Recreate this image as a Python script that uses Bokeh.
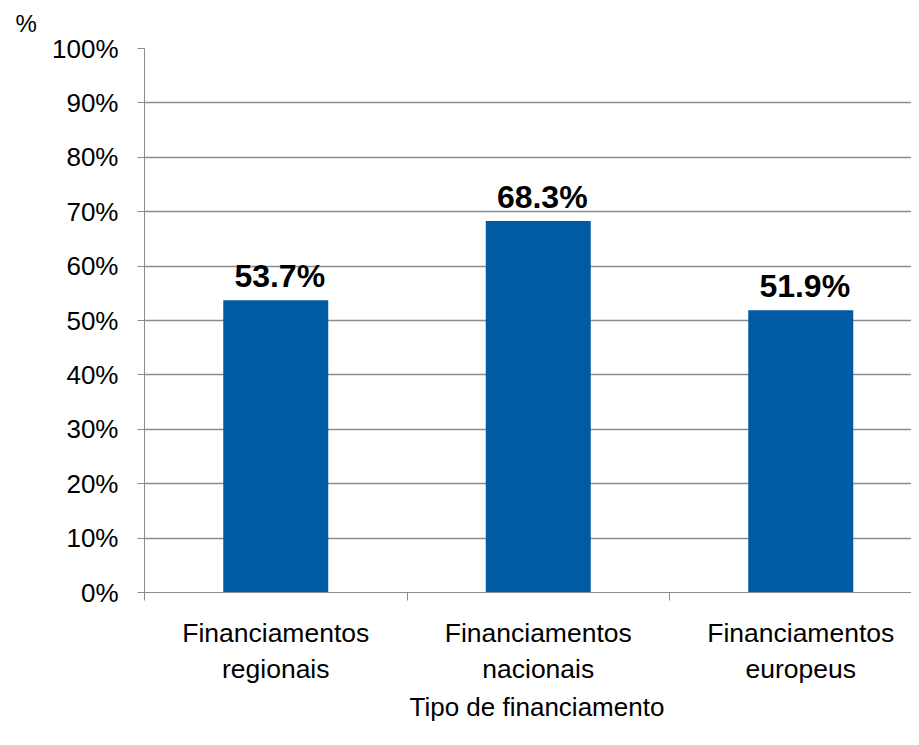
from bokeh.plotting import figure
from bokeh.models import FixedTicker, Range1d, ColumnDataSource, Title
from bokeh.embed import file_html
from bokeh.resources import INLINE
from bokeh.core.properties import value

categories = ["Financiamentos\nregionais", "Financiamentos\nnacionais", "Financiamentos\neuropeus"]
values = [0.537, 0.683, 0.519]
y_ticks = [0.0, 0.1, 0.2, 0.3, 0.4, 0.5, 0.6, 0.7, 0.8, 0.9, 1.0]
y_tick_labels = ["0%", "10%", "20%", "30%", "40%", "50%", "60%", "70%", "80%", "90%", "100%"]
x_title = "Tipo de financiamento"
unit_label = "%"

FONT = "Liberation Sans"
BAR = "#005AA4"
GRID = "#8C8C8C"

W, H = 911, 737
LEFT, TOP, BOTTOM = 144, 47, 145
frame_w = W - LEFT
frame_h = H - TOP - BOTTOM
cat_px = 262.5
label_gap = 24.0 / frame_h

xs = [i + 0.5 for i in range(len(categories))]
src = ColumnDataSource(dict(x=xs, top=values,
                            ly=[v + label_gap for v in values],
                            lab=[f"{v*100:.1f}%" for v in values]))

p = figure(width=W, height=H, output_backend="svg", toolbar_location=None,
           x_range=Range1d(0, frame_w / cat_px), y_range=Range1d(0, 1),
           min_border_left=LEFT, min_border_top=TOP, min_border_bottom=BOTTOM,
           min_border_right=0)
p.outline_line_color = None
p.background_fill_color = "white"

p.title.text = unit_label
p.title.text_font = FONT
p.title.text_font_size = "24px"
p.title.text_font_style = "normal"
p.title.text_color = "black"
p.title.align = "left"
p.title.vertical_align = "top"
p.title.offset = -129
p.title.standoff = 19

p.vbar(x="x", top="top", width=0.4, bottom=0, source=src, fill_color=BAR, line_color=None)
p.text(x="x", y="ly", text="lab", source=src, text_font=value(FONT), text_font_size="32px",
       text_font_style="bold", text_align="center", text_baseline="alphabetic",
       x_offset=4, text_color="black")

# y axis
p.yaxis.ticker = FixedTicker(ticks=y_ticks)
p.yaxis.major_label_overrides = {t: l for t, l in zip(y_ticks, y_tick_labels)}
p.yaxis.major_label_text_font = FONT
p.yaxis.major_label_text_font_size = "26px"
p.yaxis.major_label_text_color = "black"
p.yaxis.major_tick_out = 7
p.yaxis.major_tick_in = 0
p.yaxis.minor_tick_line_color = None
p.yaxis.axis_line_color = GRID
p.yaxis.major_tick_line_color = GRID
p.yaxis.major_label_standoff = 19

# x axis
p.xaxis.ticker = FixedTicker(ticks=xs, minor_ticks=[0, 1, 2, 3])
p.xaxis.major_label_overrides = {x: c for x, c in zip(xs, categories)}
p.xaxis.major_label_text_font = FONT
p.xaxis.major_label_text_font_size = "26.5px"
p.xaxis.major_label_text_color = "black"
p.xaxis.major_tick_line_color = None
p.xaxis.minor_tick_out = 8
p.xaxis.minor_tick_in = 0
p.xaxis.minor_tick_line_color = GRID
p.xaxis.axis_line_color = GRID
p.xaxis.major_label_standoff = 17

xt = Title(text=x_title, text_font=FONT, text_font_size="26px", text_font_style="normal",
           text_color="black", align="left", offset=265, standoff=6)
p.add_layout(xt, "below")

p.xgrid.grid_line_color = None
p.ygrid.ticker = FixedTicker(ticks=y_ticks)
p.ygrid.grid_line_color = GRID
p.ygrid.grid_line_width = 1.3

open("out.html", "w").write(file_html(p, INLINE))
